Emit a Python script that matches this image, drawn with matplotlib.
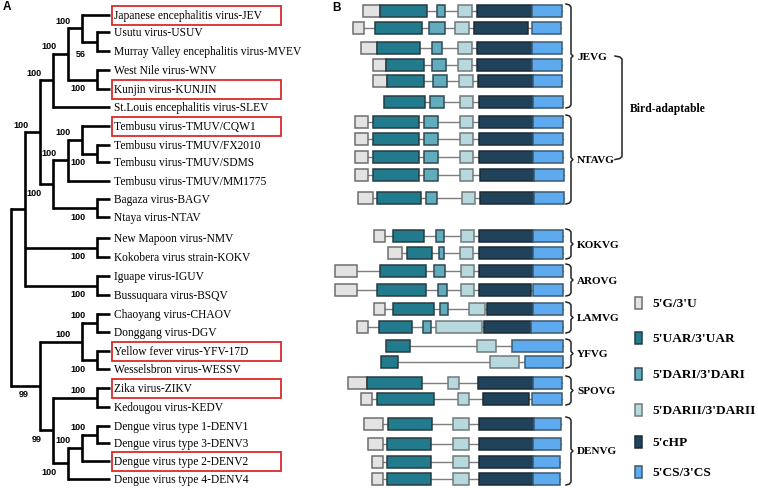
import matplotlib.pyplot as plt
from matplotlib.patches import Rectangle

plt.rcParams['font.family'] = 'Liberation Serif'

# ---- panel A: tree ----
leaf_codes = ['JEV', 'USUV', 'MVEV', 'WNV', 'KUNJIN', 'SLEV', 'CQW1', 'FX2010', 'SDMS', 'MM1775',
              'BAGV', 'NTAV', 'NMV', 'KOKV', 'IGUV', 'BSQV', 'CHAOV', 'DGV', 'YFV', 'WESSV',
              'ZIKV', 'KEDV', 'DENV1', 'DENV3', 'DENV2', 'DENV4']
leaf_labels = ['Japanese encephalitis virus-JEV', 'Usutu virus-USUV',
               'Murray Valley encephalitis virus-MVEV', 'West Nile virus-WNV',
               'Kunjin virus-KUNJIN', 'St.Louis encephalitis virus-SLEV',
               'Tembusu virus-TMUV/CQW1', 'Tembusu virus-TMUV/FX2010',
               'Tembusu virus-TMUV/SDMS', 'Tembusu virus-TMUV/MM1775',
               'Bagaza virus-BAGV', 'Ntaya virus-NTAV', 'New Mapoon virus-NMV',
               'Kokobera virus strain-KOKV', 'Iguape virus-IGUV', 'Bussuquara virus-BSQV',
               'Chaoyang virus-CHAOV', 'Donggang virus-DGV', 'Yellow fever virus-YFV-17D',
               'Wesselsbron virus-WESSV', 'Zika virus-ZIKV', 'Kedougou virus-KEDV',
               'Dengue virus type 1-DENV1', 'Dengue virus type 3-DENV3',
               'Dengue virus type 2-DENV2', 'Dengue virus type 4-DENV4']
leaf_y = [16, 33, 52, 71, 90, 108, 127, 146, 163, 182, 200, 218, 239, 258,
          277, 296, 315, 333, 352, 370, 389, 408, 427, 444, 462, 480]
highlighted = ['JEV', 'KUNJIN', 'CQW1', 'YFV', 'ZIKV', 'DENV2']

# internal nodes: name, children, depth (x), bootstrap, label side (-1 above, 1 below)
tree_nodes = [
    ('uv', ['USUV', 'MVEV'], 97, '56', 1),
    ('jev', ['JEV', 'uv'], 82, '100', -1),
    ('wk', ['WNV', 'KUNJIN'], 97, '100', 1),
    ('n1', ['jev', 'wk'], 68, '100', -1),
    ('A', ['n1', 'SLEV'], 53, '100', -1),
    ('t1', ['FX2010', 'SDMS'], 97, '100', 1),
    ('t2', ['CQW1', 't1'], 82, '100', -1),
    ('t3', ['t2', 'MM1775'], 68, '100', -1),
    ('bn', ['BAGV', 'NTAV'], 97, '100', 1),
    ('B', ['t3', 'bn'], 53, '100', 1),
    ('AB', ['A', 'B'], 40, '100', -1),
    ('nk', ['NMV', 'KOKV'], 97, '100', 1),
    ('ib', ['IGUV', 'BSQV'], 97, '100', 1),
    ('U', ['AB', 'nk', 'ib'], 25, '', 0),
    ('cd', ['CHAOV', 'DGV'], 97, '100', -1),
    ('yw', ['YFV', 'WESSV'], 97, '100', 1),
    ('Y', ['cd', 'yw'], 82, '100', -1),
    ('zk', ['ZIKV', 'KEDV'], 97, '100', -1),
    ('d13', ['DENV1', 'DENV3'], 97, '100', -1),
    ('d2', ['d13', 'DENV2'], 82, '100', -1),
    ('D', ['d2', 'DENV4'], 68, '100', 1),
    ('ZD', ['zk', 'D'], 53, '99', 1),
    ('L', ['Y', 'ZD'], 40, '99', 1),
    ('root', ['U', 'L'], 11, '', 0),
]
tip_x = 110

# ---- panel B: UTR elements per row (start, end) ----
row_y = [12, 29, 49, 66, 82, 103, 123, 140, 158, 176, 199, 237, 254, 272, 291,
         310, 328, 347, 363, 384, 400, 425, 445, 463, 480]
g_box = [(363, 380), (353, 364), (361, 377), (373, 386), (373, 387), None, (355, 368),
         (355, 368), (355, 368), (355, 368), (358, 373), (374, 385), (388, 402), (335, 357),
         (335, 357), (374, 385), (357, 368), None, None, (348, 367), (361, 372), (364, 383),
         (368, 383), (372, 383), (372, 383)]
uar_box = [(380, 427), (375, 422), (377, 420), (386, 424), (387, 424), (384, 425), (373, 419),
           (373, 419), (373, 419), (373, 419), (377, 421), (393, 424), (407, 432), (380, 426),
           (377, 426), (393, 434), (379, 412), (386, 410), (381, 398), (367, 422), (377, 434),
           (388, 432), (387, 431), (387, 431), (387, 431)]
dari_box = [(437, 445), (429, 445), (432, 442), (432, 446), (433, 447), (430, 444), (424, 438),
            (424, 438), (424, 438), (424, 438), (426, 437), (436, 444), (439, 444), (434, 445),
            (438, 447), (440, 448), (423, 431), None, None, None, None, None, None, None, None]
darii_box = [(458, 472), (455, 469), (458, 472), (458, 472), (459, 473), (460, 473), (460, 473),
             (460, 473), (460, 473), (460, 473), (462, 475), (461, 474), (460, 473), (461, 474),
             (461, 474), (469, 485), (436, 482), (477, 496), (490, 519), (448, 459), (458, 469),
             (453, 469), (453, 469), (453, 469), (453, 469)]
chp_box = [(477, 532), (474, 528), (477, 532), (477, 532), (478, 533), (479, 533), (479, 533),
           (479, 533), (479, 533), (480, 534), (480, 534), (479, 533), (479, 533), (479, 533),
           (479, 531), (487, 533), (484, 531), None, None, (478, 533), (483, 529), (479, 534),
           (479, 533), (479, 533), (479, 533)]
cs_box = [(532, 562), (532, 561), (532, 562), (532, 562), (533, 562), (533, 563), (533, 563),
          (533, 563), (533, 563), (534, 564), (534, 564), (533, 563), (533, 563), (533, 563),
          (533, 563), (533, 563), (531, 563), (512, 563), (525, 563), (533, 562), (532, 562),
          (534, 561), (533, 561), (533, 560), (533, 560)]

element_names = ["5'G/3'U", "5'UAR/3'UAR", "5'DARI/3'DARI", "5'DARII/3'DARII", "5'cHP", "5'CS/3'CS"]
element_colors = ['#e3e3e3', '#217b8d', '#62adbd', '#b7d9de', '#21425b', '#5eaaee']
element_edges = ['#6e6e6e', '#2a3a40', '#2f4a52', '#707a7c', '#1e2a33', '#3d5a70']
legend_y = [304, 339, 375, 411, 443, 473]

groups = ['JEVG', 'NTAVG', 'KOKVG', 'AROVG', 'LAMVG', 'YFVG', 'SPOVG', 'DENVG']
group_rows = [(0, 5), (6, 10), (11, 12), (13, 14), (15, 16), (17, 18), (19, 20), (21, 24)]

fig = plt.figure(figsize=(7.58, 4.89), dpi=100)
ax = fig.add_axes([0, 0, 1, 1])
ax.set_xlim(0, 758)
ax.set_ylim(489, 0)
ax.axis('off')

# tree
ypos = dict(zip(leaf_codes, leaf_y))
xpos = {c: tip_x for c in leaf_codes}
for name, kids, x, boot, side in tree_nodes:
    xpos[name] = x
    ypos[name] = (ypos[kids[0]] + ypos[kids[-1]]) / 2
tlw = 1.9
for name, kids, x, boot, side in tree_nodes:
    ax.plot([x, x], [ypos[kids[0]], ypos[kids[-1]]], color='black', lw=tlw,
            solid_capstyle='projecting')
    for c in kids:
        ax.plot([x, xpos[c]], [ypos[c], ypos[c]], color='black', lw=tlw, solid_capstyle='butt')
    if boot:
        dy = 12 if boot == '56' else 8
        ax.text(x - 11, ypos[name] + side * dy, boot, ha='right', va='center',
                fontsize=6.5, fontweight='bold', family='Liberation Sans')

for code, lab, y in zip(leaf_codes, leaf_labels, leaf_y):
    ax.text(tip_x + 4, y, lab, ha='left', va='center', fontsize=8.3)
    if code in highlighted:
        ax.add_patch(Rectangle((112, y - 9.5), 169, 19, fill=False, edgecolor='#d92b2b', lw=1.3))

ax.text(3, 7, 'A', fontsize=8.5, fontweight='bold', family='Liberation Sans', va='center')
ax.text(332, 8, 'B', fontsize=8.5, fontweight='bold', family='Liberation Sans', va='center')

# UTR diagrams
bh = 12
boxes = [g_box, uar_box, dari_box, darii_box, chp_box, cs_box]
for i, y in enumerate(row_y):
    present = [b[i] for b in boxes if b[i] is not None]
    ax.plot([present[0][0], present[-1][1]], [y, y], color='#7d7d7d', lw=1.0, zorder=1)
    for k, b in enumerate(boxes):
        if b[i] is None:
            continue
        s, e = b[i]
        ax.add_patch(Rectangle((s, y - bh / 2), e - s, bh, facecolor=element_colors[k],
                               edgecolor=element_edges[k], lw=1.1, zorder=2))

# brackets
def bracket(x0, top, bot, w=5, tick=True):
    mid = (top + bot) / 2
    xs = [x0, x0 + w * 0.7, x0 + w, x0 + w]
    ys = [top, top + 1, top + 3, mid - 2]
    if tick:
        xs += [x0 + w + 2, x0 + w]
        ys += [mid, mid + 2]
    xs += [x0 + w, x0 + w * 0.7, x0]
    ys += [bot - 3, bot - 1, bot]
    ax.plot(xs, ys, color='#222222', lw=1.1)

for g, (r0, r1) in zip(groups, group_rows):
    top, bot = row_y[r0] - 7, row_y[r1] + 6
    bracket(566, top, bot)
    ax.text(577, (top + bot) / 2, g, ha='left', va='center', fontsize=8, fontweight='bold')

bird_top = (row_y[0] - 7 + row_y[5] + 6) / 2
bird_bot = (row_y[6] - 7 + row_y[10] + 6) / 2
bracket(615, bird_top, bird_bot, w=7, tick=False)
ax.text(630, (bird_top + bird_bot) / 2, 'Bird-adaptable', ha='left', va='center',
        fontsize=8.4, fontweight='bold')

# legend
for name, col, edge, y in zip(element_names, element_colors, element_edges, legend_y):
    ax.add_patch(Rectangle((635, y - 6), 7, 12, facecolor=col, edgecolor=edge, lw=1.1))
    ax.text(652, y, name, ha='left', va='center', fontsize=9.6, fontweight='bold')

fig.savefig('out.png', dpi=100)
